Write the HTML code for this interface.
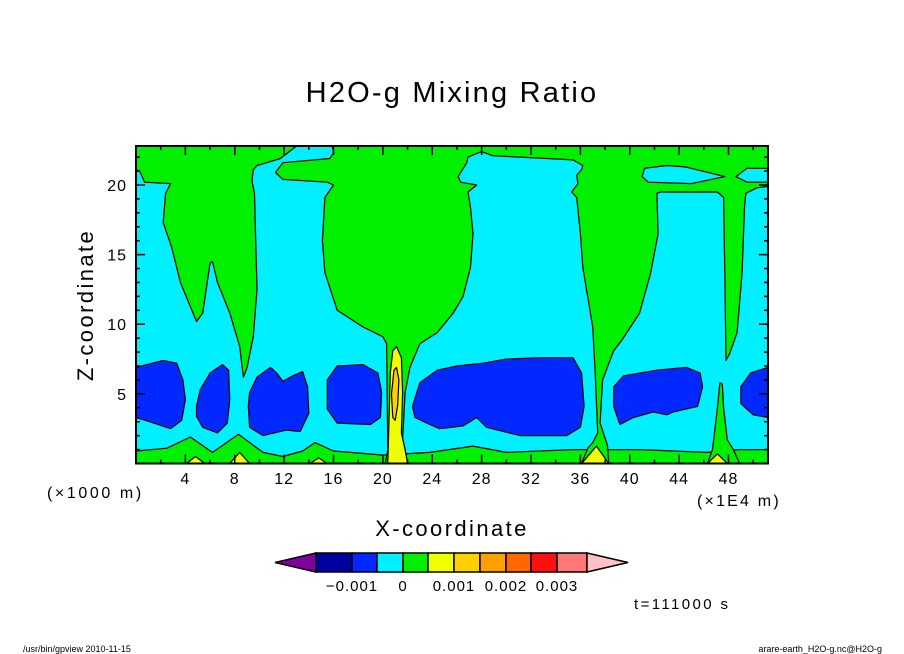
<!DOCTYPE html>
<html><head><meta charset="utf-8"><style>
body{margin:0;background:#fff;}
svg{display:block;font-family:"Liberation Sans",sans-serif;}
</style></head><body>
<svg id="chart" width="904" height="654" viewBox="0 0 904 654" xmlns="http://www.w3.org/2000/svg">
<rect width="904" height="654" fill="#fff"/>
<text x="452" y="102" font-size="29" letter-spacing="2.2" text-anchor="middle">H2O-g Mixing Ratio</text>
<defs><clipPath id="pc"><rect x="136" y="146" width="632" height="317"/></clipPath></defs>
<g id="fields" clip-path="url(#pc)"></g>
<g id="axes"></g>
<text x="47" y="498" font-size="16" letter-spacing="2.6">(×1000 m)</text>
<text x="697" y="506" font-size="16" letter-spacing="2.2">(×1E4 m)</text>
<text x="452" y="536" font-size="22" letter-spacing="2.4" text-anchor="middle">X-coordinate</text>
<text x="0" y="0" font-size="22" letter-spacing="2.4" text-anchor="middle" transform="translate(93,305) rotate(-90)">Z-coordinate</text>
<g id="colorbar"></g>
<text x="634" y="609" font-size="15" letter-spacing="2.4">t=111000 s</text>
<text x="23" y="652" font-size="9">/usr/bin/gpview  2010-11-15</text>
<text x="882" y="652" font-size="9" text-anchor="end">arare-earth_H2O-g.nc@H2O-g</text>
</svg>
<script>
// contour regions in data coords [x(1E4 m), z(1000 m)]
const cyanBase=[[0,0.9],[2.5,1.1],[4.4,1.9],[6.2,0.8],[8.3,2.1],[10.3,0.8],[11.9,0.5],[13.5,0.9],[14.5,1.5],[16,0.9],[20,0.6],[23.8,0.8],[27.3,1.25],[30,0.8],[35.4,1.0],[40.8,1.0],[46.3,0.8],[48.9,1.0],[51.2,1.0],[51.2,22.8],[0,22.8]];
const greenTopLeft=[[0,21.1],[0.3,21.0],[0.7,20.2],[2.8,20.1],[2.4,19.4],[2.2,17.3],[2.9,15.5],[3.6,13],[4.9,10.2],[5.4,10.8],[6,14.4],[6.2,14.5],[6.6,13],[7.6,10.8],[8.4,8.4],[8.7,6.2],[9,6.9],[9.5,9.1],[9.8,12.5],[9.6,19.4],[9.4,20.3],[9.5,21.1],[9.8,21.4],[10.6,21.6],[11.7,21.9],[13,22.8],[0,22.8]];
const greenMain=[[15.9,22.8],[16,22.3],[15.7,21.9],[11.9,21.6],[11.3,20.9],[11.9,20.4],[15.5,20.2],[16,20],[15.3,19.1],[15.1,16],[15.3,13.7],[16.3,11],[18.4,9.8],[20,9.1],[20.3,8.6],[20.4,1.0],[20.2,0],[22,0],[21.6,1.7],[21.8,5.1],[22.2,6.9],[23,8.6],[24.4,9.4],[25.7,10.8],[26.5,12],[27.1,14.1],[27.3,16.5],[27.1,18.4],[26.9,19.5],[27.6,20],[26.3,20.2],[26.1,20.6],[26.8,21.6],[26.9,22],[28,22.4],[28.9,22.1],[35.4,21.8],[36.2,21.4],[36.1,21.1],[35.7,20.7],[35.8,20.1],[35.3,19.5],[35.7,19.1],[36,16.5],[36.2,14.1],[37,9.8],[37.2,6.5],[37.4,2.2],[37,1.5],[36.6,1.1],[36.1,0],[38.3,0],[38.2,1.3],[37.6,2.9],[37.8,6],[38.7,8.1],[39.4,8.9],[40.8,10.8],[41.7,13.7],[42.3,16.5],[42.2,19.4],[42.5,19.5],[47.1,19.5],[47.6,19.1],[47.7,13.7],[47.8,7.4],[48.1,7.9],[48.7,9.4],[49.1,13.7],[49.3,18.4],[49.4,19.4],[50.3,19.8],[51.2,19.9],[51.2,22.8]];
const greenCol=[[46.3,0],[46.7,1],[47.1,4],[47.3,5.8],[47.5,5.7],[47.6,4],[47.9,1.7],[48.4,1],[48.9,0]];
const cyanIsland1=[[41,20.6],[41.2,21.2],[43,21.4],[44.5,21.3],[47.7,20.6],[45,20.1],[41.5,20.2]];
const cyanIsland2=[[48.6,20.6],[49.5,21.2],[51.2,21.2],[51.2,20.2],[49.5,20.2]];
const blue1=[[0,6.9],[2.2,7.4],[3.3,7.2],[3.8,6],[4,4.6],[3.7,3.1],[2.8,2.5],[1.1,3],[0,3.3]];
const blue2=[[4.9,4.1],[5.2,5.3],[6,6.5],[7,7.1],[7.5,6.7],[7.6,4.6],[7.4,2.9],[6.6,2.2],[5.4,2.6],[4.9,3.4]];
const blue3=[[9.2,5.1],[9.8,6.2],[10.9,6.9],[11.4,6.5],[11.9,5.9],[12.7,6.3],[13.5,6.6],[13.9,5.5],[14,3.6],[13.3,2.3],[12.2,2.4],[10.3,2],[9.2,2.6],[9.1,4.1]];
const blue4=[[15.5,6],[16.3,7],[18.4,7.1],[19.6,6.5],[19.9,5.1],[19.8,3.3],[19,2.8],[16.3,2.9],[15.5,3.9]];
const blue5=[[22.4,4.1],[23,5.8],[24.4,6.7],[26,7],[28.1,7.2],[30,7.5],[32.7,7.6],[35.4,7.6],[36.1,6.5],[36.3,4.1],[36,2.6],[34.9,2],[31.1,2],[28.4,2.6],[27.6,3.3],[26.5,2.7],[24.6,2.5],[23.8,2.8],[22.6,3.3]];
const blue6=[[38.7,5.5],[39.5,6.3],[42.2,6.7],[44.6,6.9],[45.7,6.5],[45.9,5.5],[45.5,4.1],[43.5,3.7],[43,3.5],[41.9,3.7],[40.3,3.3],[39.2,2.8],[38.7,4.1]];
const blue7=[[51.2,6.9],[49.8,6.5],[49,5.5],[49,4.3],[50,3.5],[51.2,3.3]];
const yellowCol=[[20.4,0],[20.6,6.5],[20.8,8.1],[21.1,8.4],[21.5,7.6],[21.6,5.1],[21.5,2.2],[21.8,1],[22,0]];
const orangeCore=[[21,3.1],[20.8,3.3],[20.7,5],[20.9,6.7],[21.1,6.9],[21.3,6],[21.2,4.2]];
const yellowBumps=[[[4.1,0],[4.8,0.5],[5.6,0]],[[7.6,0],[8.4,0.8],[9.2,0]],[[14.1,0],[14.8,0.4],[15.5,0]],[[36.1,0],[37.3,1.25],[38.3,0]],[[46.3,0],[47.1,0.7],[47.9,0]]];
const xTickLabels=[4,8,12,16,20,24,28,32,36,40,44,48];
const zTickLabels=[5,10,15,20];
const cbColors=["#8000a0","#0000a0","#0028ff","#00f0ff","#00f000","#f0ff00","#ffd000","#ffa000","#ff6800","#ff1010","#ff7878","#ffc0c8"];
const cbLabels=["\u22120.001","0","0.001","0.002","0.003"];
const cbLabelIdx=[1,3,5,7,9];

const X0=136,X1=768,XMAX=51.2,Y0=463.5,Y1=146,ZMAX=22.8;
const sx=x=>X0+x/XMAX*(X1-X0);
const sy=z=>Y0-z/ZMAX*(Y0-Y1);
const NS="http://www.w3.org/2000/svg";
const fields=document.getElementById('fields');
function poly(pts,fill,name){
  const p=document.createElementNS(NS,'polygon');
  p.setAttribute('points',pts.map(d=>sx(d[0]).toFixed(1)+','+sy(d[1]).toFixed(1)).join(' '));
  p.setAttribute('fill',fill);p.setAttribute('stroke','#000');p.setAttribute('stroke-width','1.2');p.setAttribute('stroke-linejoin','round');
  
  
  fields.appendChild(p);
}
const bg=document.createElementNS(NS,'rect');
bg.setAttribute('x',X0);bg.setAttribute('y',Y1);bg.setAttribute('width',X1-X0);bg.setAttribute('height',Y0-Y1);bg.setAttribute('fill','#00f000');


fields.appendChild(bg);
poly(cyanBase,'#00f0ff','cyan-region');
poly(greenTopLeft,'#00f000','green-region-left');
poly(greenMain,'#00f000','green-region-main');
poly(greenCol,'#00f000','green-column');
poly(cyanIsland1,'#00f0ff','cyan-island');
poly(cyanIsland2,'#00f0ff','cyan-island');
[blue1,blue2,blue3,blue4,blue5,blue6,blue7].forEach(b=>poly(b,'#0028ff','blue-cell'));
poly(yellowCol,'#f0ff00','yellow-column');
poly(orangeCore,'#ffd000','orange-core');
yellowBumps.forEach(b=>poly(b,'#f0ff00','yellow-bump'));

const axes=document.getElementById('axes');
function line(x1,y1,x2,y2,w,name){
  const l=document.createElementNS(NS,'line');
  l.setAttribute('x1',x1);l.setAttribute('y1',y1);l.setAttribute('x2',x2);l.setAttribute('y2',y2);
  l.setAttribute('stroke','#000');l.setAttribute('stroke-width',w);
  
  
  axes.appendChild(l);
}
function txt(x,y,s,size,anchor,name,parent){
  const t=document.createElementNS(NS,'text');
  t.setAttribute('x',x);t.setAttribute('y',y);t.setAttribute('font-size',size);t.setAttribute('text-anchor',anchor);
  t.setAttribute('letter-spacing','1');
  t.textContent=s;
  
  
  (parent||axes).appendChild(t);
}
for(let x=2;x<XMAX;x+=2){
  const major=x%4===0, L=major?9:4;
  line(sx(x),Y1,sx(x),Y1+L,1.5,'x-tick-top');
  line(sx(x),Y0,sx(x),Y0-L,1.5,'x-tick-bottom');
}
for(let z=1;z<ZMAX;z+=1){
  const major=z%5===0, L=major?9:4;
  line(X0,sy(z),X0+L,sy(z),1.5,'z-tick-left');
  line(X1,sy(z),X1-L,sy(z),1.5,'z-tick-right');
}
xTickLabels.forEach(v=>txt(sx(v),484,String(v),16,'middle','x-tick-label'));
zTickLabels.forEach(v=>txt(127,sy(v)+6,String(v),16,'end','z-tick-label'));
const fr=document.createElementNS(NS,'rect');
fr.setAttribute('x',X0);fr.setAttribute('y',Y1);fr.setAttribute('width',X1-X0);fr.setAttribute('height',Y0-Y1);
fr.setAttribute('fill','none');fr.setAttribute('stroke','#000');fr.setAttribute('stroke-width','2');


axes.appendChild(fr);

// colorbar
const cb=document.getElementById('colorbar');
const edges=[316,352,377,403,428,454,480,506,531,557,587];
const cy0=553,cy1=572,cym=562.5;
function cbEl(tag,attrs,name){
  const e=document.createElementNS(NS,tag);
  for(const k in attrs)e.setAttribute(k,attrs[k]);
  
  
  cb.appendChild(e);
}
cbEl('polygon',{points:`275,${cym} ${edges[0]},${cy0} ${edges[0]},${cy1}`,fill:cbColors[0],stroke:'#000','stroke-width':1.5},'colorbar-under');
for(let i=0;i<edges.length-1;i++){
  cbEl('rect',{x:edges[i],y:cy0,width:edges[i+1]-edges[i],height:cy1-cy0,fill:cbColors[i+1],stroke:'#000','stroke-width':1.5},'colorbar-box');
}
cbEl('polygon',{points:`${edges[10]},${cy0} 628,${cym} ${edges[10]},${cy1}`,fill:cbColors[11],stroke:'#000','stroke-width':1.5},'colorbar-over');
cbLabels.forEach((s,i)=>txt(edges[cbLabelIdx[i]],591,s,15,'middle','colorbar-label',cb));
</script>
</body></html>
